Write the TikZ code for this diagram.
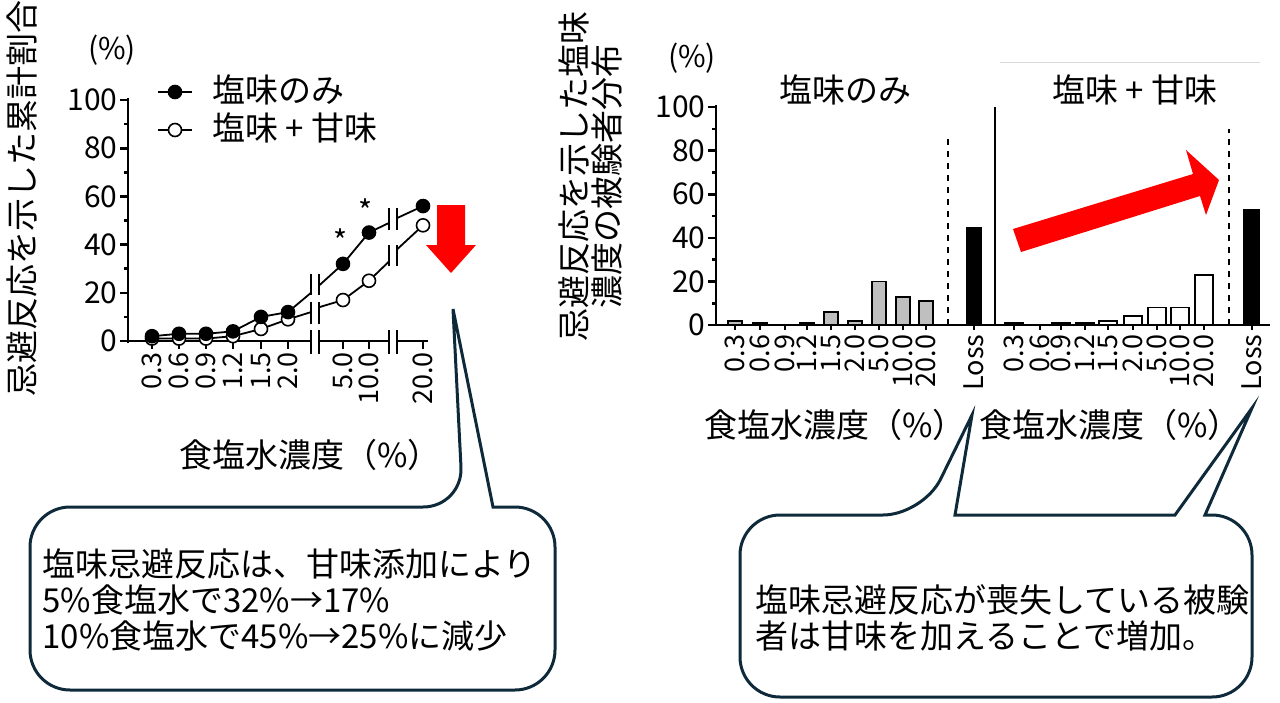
\documentclass[tikz,border=0pt]{standalone}
\usepackage{fontspec}
\setmainfont{Noto Sans CJK JP}
\usetikzlibrary{arrows.meta}
\definecolor{navy}{HTML}{0E2A3A}
\definecolor{bargray}{HTML}{BFBFBF}
\begin{document}
\begin{tikzpicture}[x=0.5pt,y=-0.5pt,
  ax/.style={line width=1.3pt},
  lbl/.style={font=\fontsize{15}{16}\selectfont,inner sep=0pt},
  tk/.style={font=\fontsize{13.5}{14}\selectfont,inner sep=0pt,rotate=90,anchor=east},
  big/.style={font=\fontsize{16.5}{18}\selectfont,inner sep=0pt},
  fdot/.style={circle,fill=black,draw=black,line width=0.8pt,minimum size=6.5pt,inner sep=0pt},
  odot/.style={circle,fill=white,draw=black,line width=0.8pt,minimum size=6.5pt,inner sep=0pt},
  callout/.style={draw=navy,line width=1.5pt,fill=white},
  bar/.style={draw=black,line width=0.9pt}]
\useasboundingbox (0,0) rectangle (1280,702);
% ---------- left chart ----------
\node[big,rotate=90] (ylab) at (22,198) {忌避反応を示した累計割合};
\node[lbl] (pct1) at (112,50) {(\%)};
\begin{scope}[shift={(0,341)},yscale=-2.41]
 \draw[ax] (128,-1) -- (128,0) -- (311,0);
 \draw[ax] (128,0) -- (128,101);
 \draw[ax] (319,0) -- (389,0);
 \draw[ax] (397,0) -- (428,0);
 \foreach \v in {0,20,...,100}{\draw[ax] (120,\v) -- (128,\v); \node[lbl,anchor=east] at (118,\v) {\v};}
 \foreach \v in {10,30,...,90}{\draw[ax] (124,\v) -- (128,\v);}
 \foreach \x/\t in {152/0.3,179/0.6,206/0.9,233/1.2,261/1.5,288/2.0,343/5.0,369/10.0,423/20.0}{
   \draw[ax] (\x,0) -- (\x,-3.3);
   \node[tk] at (\x,-4.6) {\t};}
 \foreach \x in {311,319,389,397}{\draw[ax] (\x,4.5) -- (\x,-5.5);}
 \foreach \x in {311,319}{\draw[ax] (\x,19) -- (\x,28); \draw[ax] (\x,7) -- (\x,16);}
 \foreach \x in {389,397}{\draw[ax] (\x,46) -- (\x,55); \draw[ax] (\x,31) -- (\x,40);}
 \draw[line width=0.9pt] (152,1) -- (179,1) -- (206,1) -- (233,2) -- (261,5) -- (288,9) -- (311,12);
 \draw[line width=0.9pt] (319,14) -- (343,17) -- (369,25) -- (389,33);
 \draw[line width=0.9pt] (397,38) -- (423,48);
 \draw[line width=0.9pt] (152,2) -- (179,3) -- (206,3) -- (233,4) -- (261,10) -- (288,12) -- (311,20);
 \draw[line width=0.9pt] (319,23) -- (343,32) -- (369,45) -- (389,49);
 \draw[line width=0.9pt] (397,51) -- (423,56);
 \foreach \x/\v [count=\i] in {152/1,179/1,206/1,233/2,261/5,288/9,343/17,369/25,423/48}{\node[odot] (o\i) at (\x,\v) {};}
 \foreach \x/\v [count=\i] in {152/2,179/3,206/3,233/4,261/10,288/12,343/32,369/45,423/56}{\node[fdot] (f\i) at (\x,\v) {};}
\end{scope}
\node[lbl] (ast1) at (341,241) {*};
\node[lbl] (ast2) at (366,211) {*};
\node[big] (xt1) at (310,455) {食塩水濃度（\%）};
% legend
\coordinate (la1) at (158,92); \coordinate (lb1) at (192,92);
\draw[line width=0.9pt] (la1) -- (lb1);
\node[fdot] (lg1) at (175,92) {};
\node[big,anchor=west] (lt1) at (212,90) {塩味のみ};
\coordinate (la2) at (158,130); \coordinate (lb2) at (192,130);
\draw[line width=0.9pt] (la2) -- (lb2);
\node[odot] (lg2) at (175,130) {};
\node[big,anchor=west] (lt2) at (212,128) {塩味\ +\ 甘味};
% red down arrow
\fill[red] (437,205) -- (465,205) -- (465,245) -- (476,245) -- (451,273) -- (426,245) -- (437,245) -- cycle;
% ---------- right chart ----------
\node[big,rotate=90] (ylab2a) at (574,176) {忌避反応を示した塩味};
\node[big,rotate=90] (ylab2b) at (607,176) {濃度の被験者分布};
\node[lbl] (pct2) at (692,58) {(\%)};
\draw[gray!30,line width=0.5pt] (1000,62) -- (1260,62);
\node[big] (t1) at (845,90) {塩味のみ};
\node[big] (t2) at (1135,90) {塩味\ +\ 甘味};
\begin{scope}[shift={(0,325)},yscale=-2.18]
 \foreach \x/\v in {735/2,760/1,807/1,831/6,855/2,879/20,903/13,926/11}{\draw[bar,fill=bargray] (\x-7,0) rectangle (\x+7,\v);}
 \foreach \x/\v in {1014/1,1061/1,1085/1,1108/2,1133/4,1157/8,1180/8,1204/23}{\draw[bar,fill=white] (\x-9,0) rectangle (\x+9,\v);}
 \fill (966,0) rectangle (982,45);
 \fill (1243,0) rectangle (1260,53);
 \draw[ax] (716,101) -- (716,0) -- (1270,0);
 \foreach \v in {0,20,...,100}{\draw[ax] (708,\v) -- (716,\v); \node[lbl,anchor=east] at (706,\v) {\v};}
 \foreach \v in {10,30,...,90}{\draw[ax] (712,\v) -- (716,\v);}
 \foreach \x/\t in {735/0.3,760/0.6,785/0.9,807/1.2,831/1.5,855/2.0,879/5.0,903/10.0,926/20.0,974/Loss,1014/0.3,1040/0.6,1061/0.9,1085/1.2,1108/1.5,1133/2.0,1157/5.0,1180/10.0,1204/20.0,1252/Loss}{
   \draw[ax] (\x,0) -- (\x,-2.5);
   \node[tk] at (\x,-4.2) {\t};}
 \draw[line width=1pt,dashed] (948,0) -- (948,87);
 \draw[line width=1pt,dashed] (1229,0) -- (1229,90);
 \draw[line width=0.8pt] (995,0) -- (995,100);
\end{scope}
\node[big] (xt2) at (835,425) {食塩水濃度（\%）};
\node[big] (xt3) at (1110,425) {食塩水濃度（\%）};
% red diagonal arrow
\fill[red] (1013,229) -- (1193,174) -- (1186,150) -- (1219,180) -- (1206,215) -- (1200,196) -- (1021,252) -- cycle;
% ---------- callouts ----------
\draw[callout,rounded corners=20pt] (30,600) |- (463,507) [sharp corners] -- (453,309) -- (493,507) [rounded corners=20pt] -| (555,600) |- (30,690) -- cycle;
\node[big,anchor=west,align=left] (c1) at (42,600) {塩味忌避反応は、甘味添加により\\5\%食塩水で32\%→17\%\\10\%食塩水で45\%→25\%に減少};
\draw[callout,rounded corners=20pt] (740,610) |- (923,515) [sharp corners] -- (972,415) -- (955,515) -- (1175,515) -- (1252,408) -- (1205,515) [rounded corners=20pt] -| (1252,610) |- (740,697) -- cycle;
\node[big,anchor=west,align=left] (c2) at (755,618) {塩味忌避反応が喪失している被験\\者は甘味を加えることで増加。};
\end{tikzpicture}
\end{document}
